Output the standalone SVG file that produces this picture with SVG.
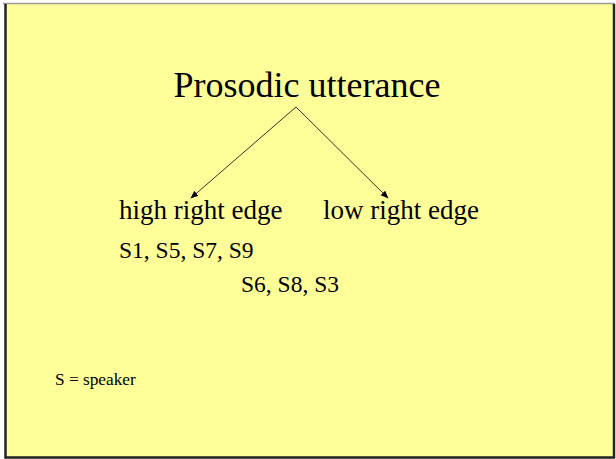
<svg xmlns="http://www.w3.org/2000/svg" width="616" height="459" viewBox="0 0 616 459">
<style>
.t{font-family:"Liberation Serif","Times New Roman",serif;fill:#000}
.c{stroke:#000;stroke-width:0.8;fill:none}
</style>
<defs>
<marker id="ah" viewBox="0 0 10 10" refX="9" refY="5" markerWidth="8" markerHeight="8" markerUnits="userSpaceOnUse" orient="auto">
<path d="M0,1 L10,5 L0,9 z" fill="#000"/>
</marker>
</defs>
<rect x="0" y="0" width="616" height="459" fill="#ffffff"/>
<rect x="5" y="4" width="609" height="454" fill="#ffff99"/>
<line x1="3" y1="3.5" x2="615" y2="3.5" stroke="#999" stroke-width="1.5"/>
<path d="M5.5,4 V457.5 H614 V4" fill="none" stroke="#222" stroke-width="2.5"/>
<g id="root"><text class="t" x="307" y="97" font-size="36" text-anchor="middle">Prosodic utterance</text></g>
<g id="high"><text class="t" x="119" y="219" font-size="27">high right edge</text></g>
<g id="low"><text class="t" x="323" y="219" font-size="27">low right edge</text></g>
<g id="s-high"><text class="t" x="119" y="258" font-size="23.5">S1, S5, S7, S9</text></g>
<g id="s-low"><text class="t" x="241" y="292" font-size="23.5">S6, S8, S3</text></g>
<g id="legend"><text class="t" x="55" y="385" font-size="17.3">S = speaker</text></g>
<g id="connectors">
<line class="c" x1="296" y1="107" x2="191" y2="198" marker-end="url(#ah)"/>
<line class="c" x1="296" y1="107" x2="388" y2="198" marker-end="url(#ah)"/>
</g>
</svg>
